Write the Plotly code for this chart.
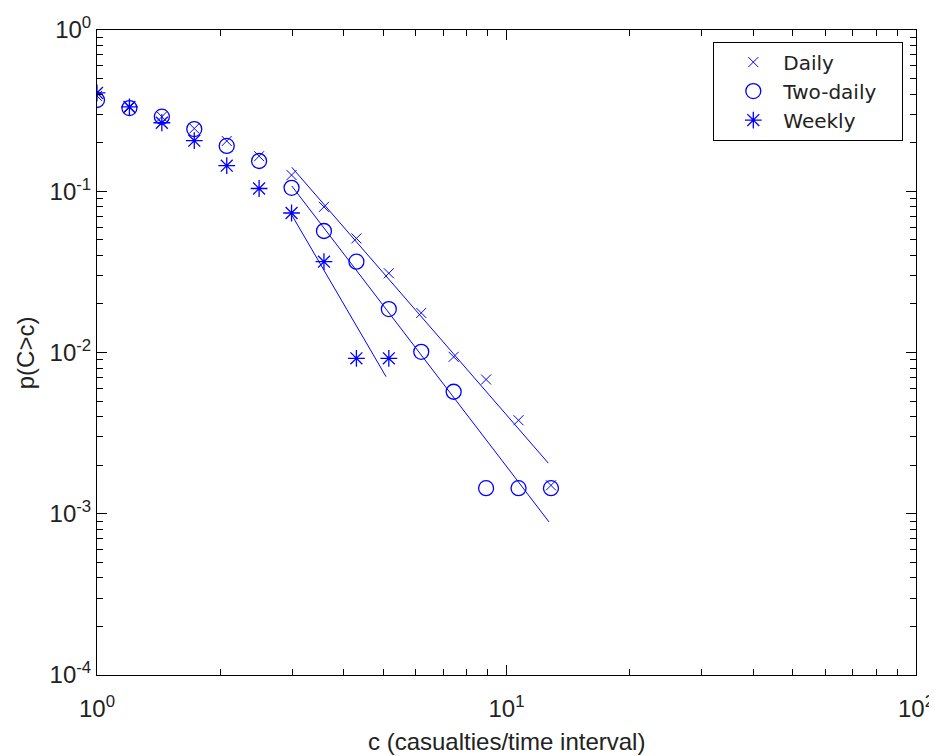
import plotly.graph_objects as go

# ---- data ----
c_bins = [1.0, 1.2, 1.44, 1.728, 2.074, 2.488, 2.986, 3.583, 4.300, 5.160,
          6.192, 7.430, 8.916, 10.70, 12.84]

daily_p = [0.39, 0.33, 0.29, 0.245, 0.205, 0.165, 0.126, 0.080, 0.051, 0.031,
           0.0176, 0.0094, 0.0068, 0.0038, 0.0015]

twodaily_p = [0.368, 0.328, 0.29, 0.243, 0.191, 0.154, 0.105, 0.0567, 0.0366,
              0.0186, 0.0101, 0.00571, 0.00144, 0.00144, 0.00144]

weekly_c = [1.0, 1.2, 1.44, 1.728, 2.074, 2.488, 2.986, 3.583, 4.300, 5.160]
weekly_p = [0.407, 0.334, 0.266, 0.206, 0.144, 0.104, 0.0733, 0.0366, 0.0092, 0.0092]

# power-law fit lines (end points)
daily_fit_c = [2.99, 12.65]
daily_fit_p = [0.1408, 0.00206]
twodaily_fit_c = [2.99, 12.7]
twodaily_fit_p = [0.1078, 0.00089]
weekly_fit_c = [2.99, 5.08]
weekly_fit_p = [0.0712, 0.00708]

series_names = ["Daily", "Two-daily", "Weekly"]

x_tickvals = [1, 10, 100]
x_ticktext = ["10<sup>0</sup>", "10<sup>1</sup>", "10<sup>2</sup>"]
y_tickvals = [1, 0.1, 0.01, 0.001, 0.0001]
y_ticktext = ["10<sup>0</sup>", "10<sup>-1</sup>", "10<sup>-2</sup>",
              "10<sup>-3</sup>", "10<sup>-4</sup>"]

BLUE = "#0000ff"
AXFONT = "Liberation Sans, Arial, sans-serif"
PAD = "\u00a0\u00a0\u00a0"  # right padding inside the legend box

fig = go.Figure()

fig.add_trace(go.Scatter(x=c_bins, y=daily_p, mode="markers",
                         name=series_names[0] + PAD, legendgroup="a",
                         marker=dict(symbol="x-thin-open", size=10,
                                     line=dict(color=BLUE, width=1), color=BLUE)))
fig.add_trace(go.Scatter(x=c_bins, y=twodaily_p, mode="markers",
                         name=series_names[1] + PAD, legendgroup="b",
                         marker=dict(symbol="circle-open", size=15,
                                     line=dict(color=BLUE, width=1.3), color=BLUE)))
fig.add_trace(go.Scatter(x=weekly_c, y=weekly_p, mode="markers",
                         name=series_names[2] + PAD, legendgroup="c",
                         marker=dict(symbol="asterisk-open", size=14,
                                     line=dict(color=BLUE, width=1.3), color=BLUE)))

for fx, fy in [(daily_fit_c, daily_fit_p), (twodaily_fit_c, twodaily_fit_p),
               (weekly_fit_c, weekly_fit_p)]:
    fig.add_trace(go.Scatter(x=fx, y=fy, mode="lines", showlegend=False,
                             line=dict(color=BLUE, width=1)))

minor_x = [2, 3, 4, 5, 6, 7, 8, 9, 20, 30, 40, 50, 60, 70, 80, 90]
minor_y = [m * 10.0 ** e for e in (-4, -3, -2, -1) for m in range(2, 10)]

axis_common = dict(
    showline=True, linecolor="black", linewidth=1, mirror="allticks",
    ticks="inside", ticklen=10, tickwidth=1, tickcolor="black",
    showgrid=False, zeroline=False, automargin=False,
    tickfont=dict(family=AXFONT, size=24, color="#222"),
)

fig.update_xaxes(type="log", range=[0, 2], tickmode="array",
                 tickvals=x_tickvals, ticktext=x_ticktext, ticklabelstandoff=12,
                 minor=dict(tickvals=minor_x, ticks="inside", ticklen=6,
                            tickcolor="black", showgrid=False),
                 **axis_common)
fig.update_yaxes(type="log", range=[-4, 0], tickmode="array",
                 tickvals=y_tickvals, ticktext=y_ticktext,
                 minor=dict(tickvals=minor_y, ticks="inside", ticklen=6,
                            tickcolor="black", showgrid=False),
                 **axis_common)

fig.add_annotation(text="c (casualties/time interval)", xref="paper", yref="paper",
                   x=0.5, y=-0.103, xanchor="center", yanchor="middle",
                   showarrow=False, font=dict(family=AXFONT, size=24, color="#222"))
fig.add_annotation(text="p(C>c)", xref="paper", yref="paper",
                   x=-0.087, y=0.5, xanchor="center", yanchor="middle",
                   textangle=-90, showarrow=False,
                   font=dict(family=AXFONT, size=24, color="#222"))

# page body has an 8px margin: shrink the figure so the plot area sits where the
# reference has it (x 97-916, y 30-675 on the page)
fig.update_layout(
    width=929, height=748,
    margin=dict(l=89, r=21, t=22, b=81, autoexpand=False),
    paper_bgcolor="white", plot_bgcolor="white",
    showlegend=True,
    legend=dict(x=0.9845, y=0.982, xanchor="right", yanchor="top",
                bordercolor="black", borderwidth=1, bgcolor="white",
                font=dict(family="DejaVu Sans", size=20, color="#222"),
                traceorder="grouped", tracegroupgap=0, itemwidth=50,
                indentation=9),
)

fig.write_html("out.html")
